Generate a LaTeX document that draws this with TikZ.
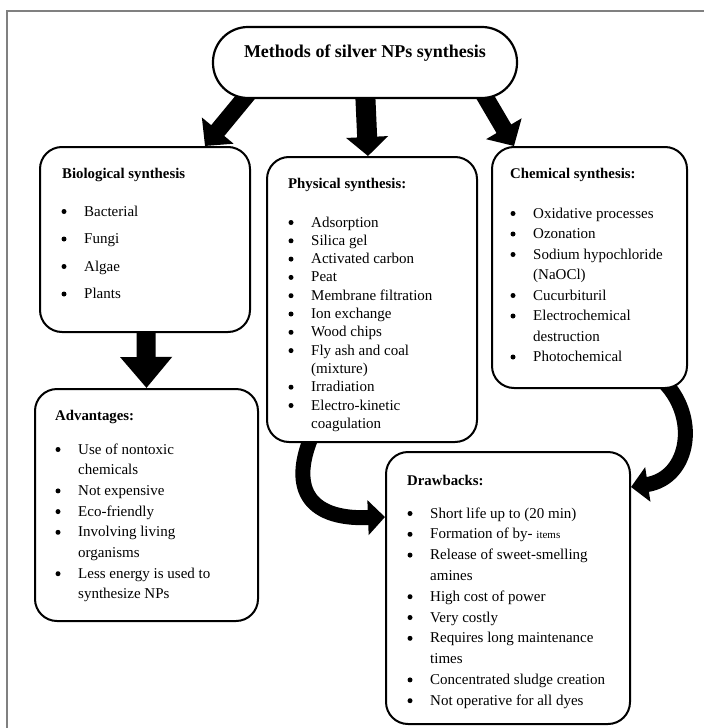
\documentclass[tikz,border=0pt]{standalone}
\usepackage{fontspec}
\setmainfont{Liberation Serif}
\usetikzlibrary{arrows.meta,backgrounds}
\tikzset{
  box/.style={draw, fill=white, line width=2pt, rounded corners=22pt, inner sep=0pt},
  ovalbox/.style={draw, fill=white, line width=2.2pt, rounded corners=35pt, inner sep=0pt},
  itm/.style={anchor=base west, inner sep=0pt, font=\fontsize{15}{18}\selectfont},
  ttl/.style={anchor=base west, inner sep=0pt, font=\bfseries\fontsize{14.8}{18}\selectfont},
  bigarrow/.style={line width=17pt, -{Triangle[width=40pt,length=20pt]}},
  curvearrow/.style={line width=15pt, -{Triangle[width=34pt,length=17pt]}},
  framestyle/.style={draw=gray, line width=1.5pt},
  dotmark/.style={fill=black}
}
\newcommand{\itemlist}[3]{% #1 prefix, #2 text x, #3 list
  \foreach \y/\b/\t [count=\i] in {#3}{%
    \node[itm] (#1\i) at (#2,\y) {\t};
    \ifnum\b=1 \fill[dotmark] ({#2-20},{\y-4.5}) circle (2.5pt);\fi
  }}
\begin{document}
\begin{tikzpicture}[x=1pt,y=-1pt]
\useasboundingbox (0,0) rectangle (704,728);
\begin{scope}[on background layer]
\fill[white] (0,0) rectangle (704,728);
\end{scope}
\draw[framestyle] (7,728) -- (7,11) -- (704,11);

% boxes
\node[ovalbox, minimum width=304pt, minimum height=71pt] (top) at (365,62.5) {};
\node[anchor=base, inner sep=0pt, font=\bfseries\fontsize{18}{20}\selectfont] (toptext) at (365,57) {Methods of silver NPs synthesis};

\node[box, minimum width=210pt, minimum height=185pt] (bio) at (145,239.5) {};
\node[box, minimum width=210pt, minimum height=285pt] (phys) at (372,299.5) {};
\node[box, minimum width=195pt, minimum height=241pt] (chem) at (589.5,267.5) {};
\node[box, minimum width=223pt, minimum height=232pt] (adv) at (146.5,505) {};
\node[box, minimum width=244pt, minimum height=272pt] (drw) at (508,588) {};

% titles
\node[ttl] (biot) at (62,178) {Biological synthesis};
\node[ttl] (physt) at (288,188) {Physical synthesis:};
\node[ttl] (chemt) at (510,178) {Chemical synthesis:};
\node[ttl] (advt) at (55,420) {Advantages:};
\node[ttl] (drwt) at (407,485) {Drawbacks:};

% items
\itemlist{bioi}{84}{216/1/Bacterial, 243.5/1/Fungi, 271/1/Algae, 298.5/1/Plants}

\itemlist{physi}{311}{227/1/Adsorption, 245.3/1/Silica gel, 263.6/1/Activated carbon, 281.9/1/Peat, 300.2/1/Membrane filtration, 318.5/1/Ion exchange, 336.8/1/Wood chips, 355.1/1/Fly ash and coal, 373.4/0/(mixture), 391.7/1/Irradiation, 410/1/Electro-kinetic, 428.3/0/coagulation}

\itemlist{chemi}{533}{218/1/Oxidative processes, 238.5/1/Ozonation, 259/1/Sodium hypochloride, 279.5/0/(NaOCl), 300/1/Cucurbituril, 320.5/1/Electrochemical, 341/0/destruction, 361.5/1/Photochemical}

\itemlist{advi}{78}{454/1/Use of nontoxic, 474.7/0/chemicals, 495.4/1/Not expensive, 516.1/1/Eco-friendly, 536.8/1/Involving  living, 557.5/0/organisms, 578.2/1/Less energy is used to, 598.9/0/synthesize NPs}

\itemlist{drwi}{430}{518/1/Short life up to (20 min), 538.8/1/{Formation of by- {\fontsize{11}{12}\selectfont items}}, 559.6/1/Release of sweet-smelling, 580.4/0/amines, 601.2/1/High cost of power, 622/1/Very costly, 642.8/1/Requires long maintenance, 663.6/0/times, 684.4/1/Concentrated sludge creation, 705.2/1/Not operative for all dyes}

% arrows
\begin{scope}[on background layer]
\draw[bigarrow] ([xshift=-113pt,yshift=10pt]top.south) -- ([xshift=60pt]bio.north);
\draw[bigarrow, line width=20pt, -{Triangle[width=41pt,length=19pt]}] ([yshift=10pt]top.south) -- ([xshift=-4pt]phys.north);
\draw[bigarrow] ([xshift=115pt,yshift=11pt]top.south) -- ([xshift=-75.5pt]chem.north);
\draw[bigarrow, line width=19pt, -{Triangle[width=50pt,length=31pt]}] ([xshift=1pt,yshift=5pt]bio.south) -- (adv.north);
\draw[curvearrow] ([xshift=47pt,yshift=10pt]phys.south west) .. controls (290,485) and (305,520) .. ([yshift=-66pt]drw.north west);
\draw[curvearrow] ([xshift=-27pt,yshift=10pt]chem.south east) .. controls (700,415) and (690,478) .. ([yshift=-36pt]drw.north east);
\end{scope}
\end{tikzpicture}
\end{document}
